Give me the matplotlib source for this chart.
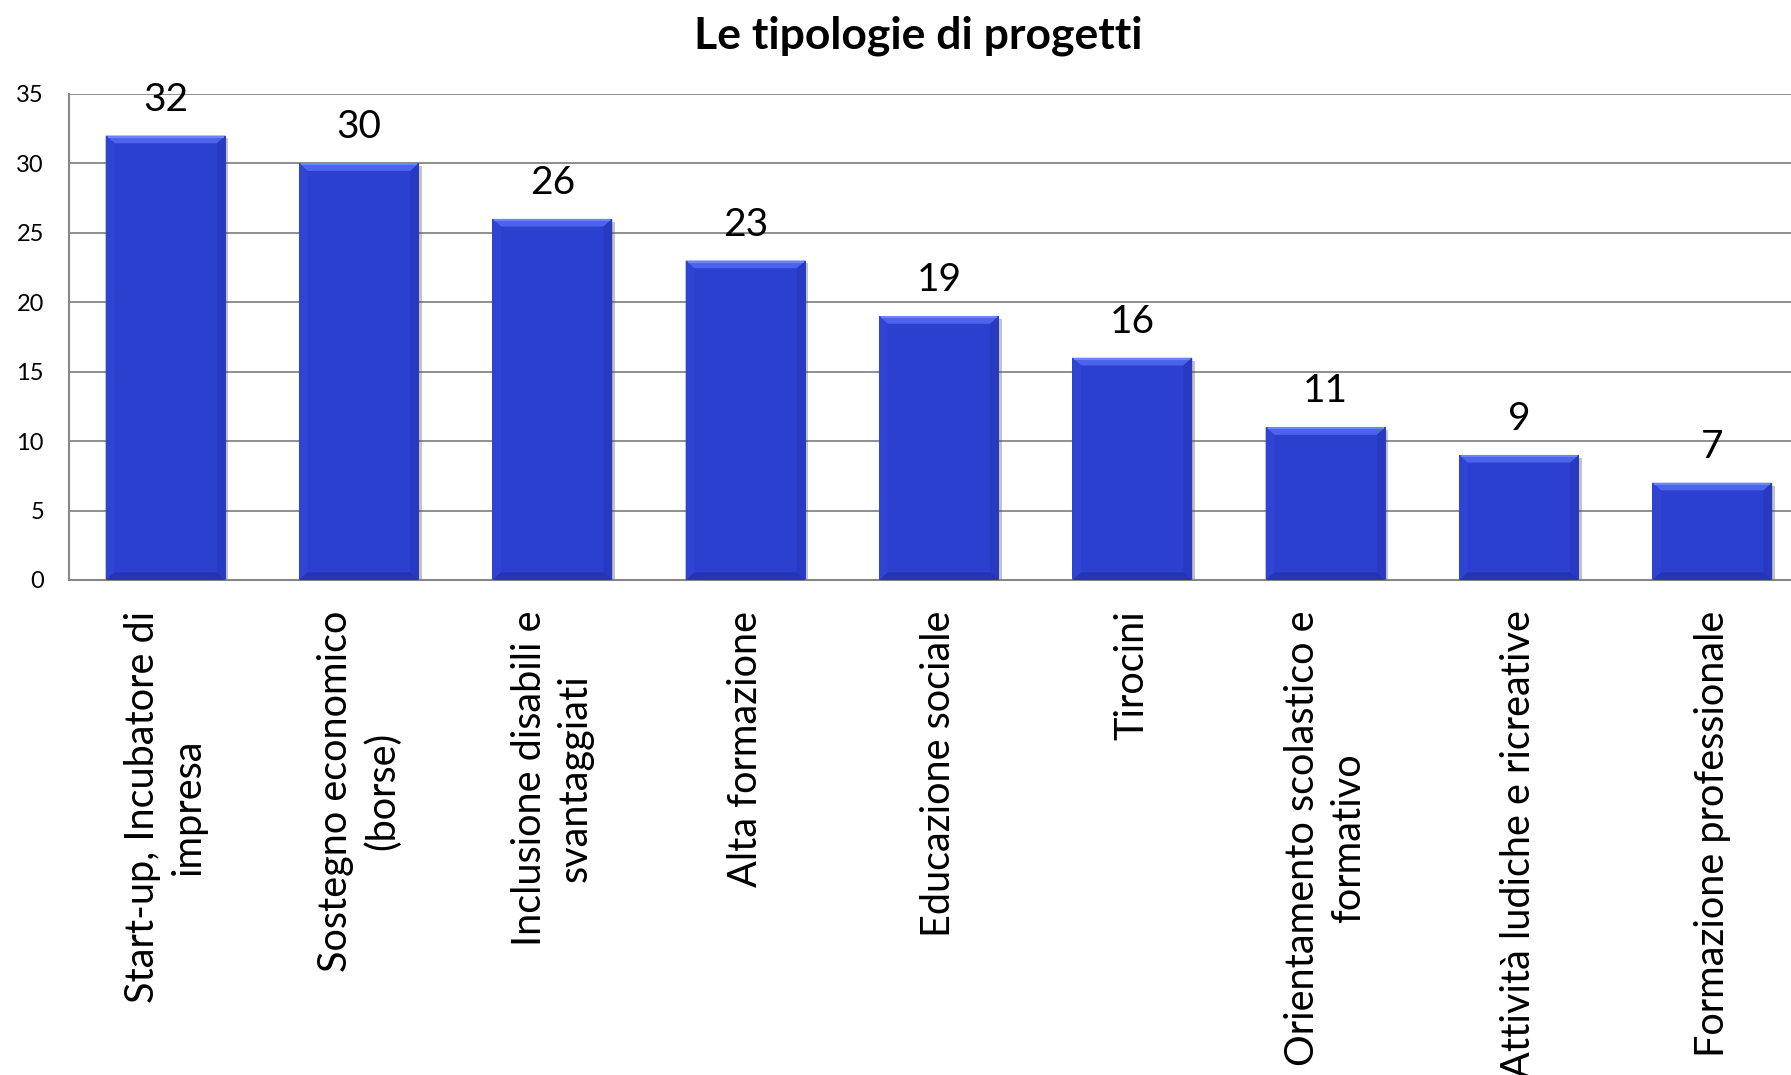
import numpy as np
import matplotlib
matplotlib.use('Agg')
import matplotlib.pyplot as plt
from matplotlib.patches import Polygon
import matplotlib.patheffects as pe

plt.rcParams['font.family'] = ['Lato', 'DejaVu Sans']

## Data
categories = ['Start-up, Incubatore di\nimpresa', 'Sostegno economico\n(borse)',
	'Inclusione disabili e\nsvantaggiati', 'Alta formazione', 'Educazione sociale',
	'Tirocini', 'Orientamento scolastico e\nformativo',
	'Attività ludiche e ricreative', 'Formazione professionale']
values = [32, 30, 26, 23, 19, 16, 11, 9, 7]
yticks = [0, 5, 10, 15, 20, 25, 30, 35]
title = 'Le tipologie di progetti'

## Style
face = '#2c40d0'
grid_c = '#868686'
width = 0.62
bx, by = 0.045, 0.55	# bevel size in data units

fig = plt.figure(figsize=(17.91, 10.75), dpi=100)
ax = fig.add_axes([0.0385, 0.4605, 0.9715, 0.4521])

x = np.arange(len(values))
bars = ax.bar(x, values, width, color=face, zorder=2,
	path_effects=[pe.SimplePatchShadow(offset=(2, -2), shadow_rgbFace='#555555', alpha=0.35),
		pe.Normal()])

# bevel on each bar
for b in bars:
	x0, x1 = b.get_x(), b.get_x() + b.get_width()
	h = b.get_height()
	parts = [
		([(x0, h), (x1, h), (x1-bx, h-by), (x0+bx, h-by)], '#4c64ec'),
		([(x1, 0), (x1, h), (x1-bx, h-by), (x1-bx, by)], '#2839c2'),
		([(x0, 0), (x1, 0), (x1-bx, by), (x0+bx, by)], '#2434b4'),
		([(x0, 0), (x0, h), (x0+bx, h-by), (x0+bx, by)], '#3044d4'),
	]
	for pts, c in parts:
		ax.add_patch(Polygon(pts, closed=True, facecolor=c, edgecolor='none', zorder=3))
	ax.plot([x0+0.01, x1-0.01], [h-0.08, h-0.08], color='#6d84ff', lw=1.5, zorder=4,
		solid_capstyle='butt')

for xi, v in zip(x, values):
	ax.annotate(str(v), (xi, v), xytext=(0, 18), textcoords='offset points',
		ha='center', va='baseline', fontsize=28)

ax.set_xlim(-0.5, len(values) - 0.5)
ax.set_ylim(0, 35)
ax.set_yticks(yticks)
ax.set_xticks(x)
ax.set_xticklabels(categories, rotation=90, ha='center', va='top',
	multialignment='center', fontsize=28.5, linespacing=1.3)
ax.tick_params(axis='x', length=0, pad=22)
ax.tick_params(axis='y', length=0, pad=18, labelsize=17)

ax.set_axisbelow(True)
ax.yaxis.grid(True, color=grid_c, lw=1.3)
for s in ['top', 'right']:
	ax.spines[s].set_visible(False)
for s in ['left', 'bottom']:
	ax.spines[s].set_color(grid_c)
	ax.spines[s].set_linewidth(1.5)

fig.text(0.5126, 0.955, title, ha='center', va='baseline', fontsize=32, fontweight='bold')

fig.savefig('out.png', dpi=100)
